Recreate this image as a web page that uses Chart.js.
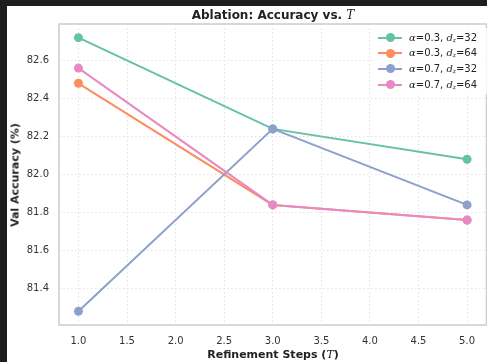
<!DOCTYPE html>
<html>
<head>
<meta charset="utf-8">
<script src="https://cdn.jsdelivr.net/npm/chart.js@4"></script>
<style>
  html, body { margin: 0; padding: 0; }
  body { width: 487px; height: 362px; background: #1e1e1e; position: relative; overflow: hidden; font-family: 'DejaVu Sans', sans-serif; }
  #panel { position: absolute; left: 7px; top: 6px; width: 480px; height: 356px; background: #fff; }
  #panel canvas { position: absolute; left: 0; top: 0; }
  .lbl { position: absolute; color: #222; white-space: nowrap; }
  .math { font-family: 'DejaVu Serif', serif; font-style: italic; font-weight: normal; }
  #title { top: 2px; left: 0; width: 532px; text-align: center; font-weight: bold; font-size: 12px; }
  #xtitle { top: 342px; left: 52px; width: 428px; text-align: center; font-weight: bold; font-size: 11px; }
  #ytitle { left: 8px; top: 169px; font-weight: bold; font-size: 11px; transform: translate(-50%, -50%) rotate(-90deg); }
  #legend { position: absolute; left: 365px; top: 22px; width: 115px; height: 66px; background: rgba(255,255,255,0.8); }
  .row { position: absolute; left: 0; height: 14px; font-size: 10px; color: #222; }
  .row .ln { position: absolute; left: 6px; top: 6px; width: 24px; height: 2px; }
  .row .dot { position: absolute; left: 13.5px; top: 2.5px; width: 9px; height: 9px; border-radius: 50%; }
  .row .tx { position: absolute; left: 37px; top: 0; line-height: 14px; white-space: nowrap; }
  .row sub { font-size: 6px; vertical-align: -1px; }
</style>
</head>
<body>
<div id="panel">
  <canvas id="chart" width="480" height="356"></canvas>
  <div id="title" class="lbl">Ablation: Accuracy vs. <span class="math">T</span></div>
  <div id="xtitle" class="lbl">Refinement Steps (<span class="math">T</span>)</div>
  <div id="ytitle" class="lbl">Val Accuracy (%)</div>
  <div id="legend"></div>
</div>
<script>
const steps = [1, 3, 5];
const accA03D32 = [82.72, 82.24, 82.08];
const accA03D64 = [82.48, 81.84, 81.76];
const accA07D32 = [81.28, 82.24, 81.84];
const accA07D64 = [82.56, 81.84, 81.76];
const xTicks = [1.0, 1.5, 2.0, 2.5, 3.0, 3.5, 4.0, 4.5, 5.0];
const yTicks = [81.4, 81.6, 81.8, 82.0, 82.2, 82.4, 82.6];

const series = [
  { alpha: '0.3', dz: '32', values: accA03D32, color: '#66c2a5' },
  { alpha: '0.3', dz: '64', values: accA03D64, color: '#fc8d62' },
  { alpha: '0.7', dz: '32', values: accA07D32, color: '#8da0cb' },
  { alpha: '0.7', dz: '64', values: accA07D64, color: '#e78ac3' }
];

// legend drawn as html so the math parts can use italics and subscripts
const legend = document.getElementById('legend');
series.forEach((s, i) => {
  const row = document.createElement('div');
  row.className = 'row';
  row.style.top = (2.5 + i * 15.7) + 'px';
  row.innerHTML =
    `<div class="ln" style="background:${s.color}"></div>` +
    `<div class="dot" style="background:${s.color}"></div>` +
    `<div class="tx"><span class="math">α</span>=${s.alpha}, <span class="math">d</span><sub class="math">z</sub>=${s.dz}</div>`;
  legend.appendChild(row);
});

const allVals = series.flatMap((s) => s.values);
const yLo = Math.min(...allVals);
const yHi = Math.max(...allVals);
const yPad = (yHi - yLo) * 0.05;

const frame = {
  id: 'frame',
  afterDatasetsDraw(chart) {
    const { ctx, chartArea: a } = chart;
    ctx.save();
    ctx.strokeStyle = '#cccccc';
    ctx.lineWidth = 1.5;
    ctx.strokeRect(a.left, a.top, a.right - a.left, a.bottom - a.top);
    ctx.restore();
  }
};

const gridStyle = { color: '#e2e2e2', lineWidth: 1, drawTicks: false };
const tickFont = { family: "'DejaVu Sans', sans-serif", size: 10 };

new Chart(document.getElementById('chart'), {
  type: 'line',
  data: {
    datasets: series.map((s, i) => ({
      label: `α=${s.alpha}, d_z=${s.dz}`,
      data: steps.map((t, j) => ({ x: t, y: s.values[j] })),
      borderColor: s.color,
      backgroundColor: s.color,
      borderWidth: 2,
      pointRadius: 4.5,
      pointBorderWidth: 0,
      order: series.length - 1 - i
    }))
  },
  options: {
    responsive: false,
    animation: false,
    layout: { autoPadding: false, padding: { top: 18, right: 0.5, left: 0, bottom: 0 } },
    scales: {
      x: {
        type: 'linear',
        min: 0.8,
        max: 5.2,
        afterBuildTicks: (scale) => { scale.ticks = xTicks.map((v) => ({ value: v })); },
        afterFit: (scale) => { scale.height = 37; scale.paddingLeft = 0; scale.paddingRight = 0; },
        grid: gridStyle,
        border: { display: false, dash: [1.5, 2.5] },
        ticks: { font: tickFont, color: '#333', padding: 10, maxRotation: 0, callback: (v) => v.toFixed(1) }
      },
      y: {
        min: yLo - yPad,
        max: yHi + yPad,
        afterBuildTicks: (scale) => { scale.ticks = yTicks.map((v) => ({ value: v })); },
        afterFit: (scale) => { scale.width = 52; scale.paddingTop = 0; scale.paddingBottom = 0; },
        grid: gridStyle,
        border: { display: false, dash: [1.5, 2.5] },
        ticks: { font: tickFont, color: '#333', padding: 10, callback: (v) => v.toFixed(1) }
      }
    },
    plugins: {
      legend: { display: false },
      tooltip: { enabled: false }
    }
  },
  plugins: [frame]
});
</script>
</body>
</html>
